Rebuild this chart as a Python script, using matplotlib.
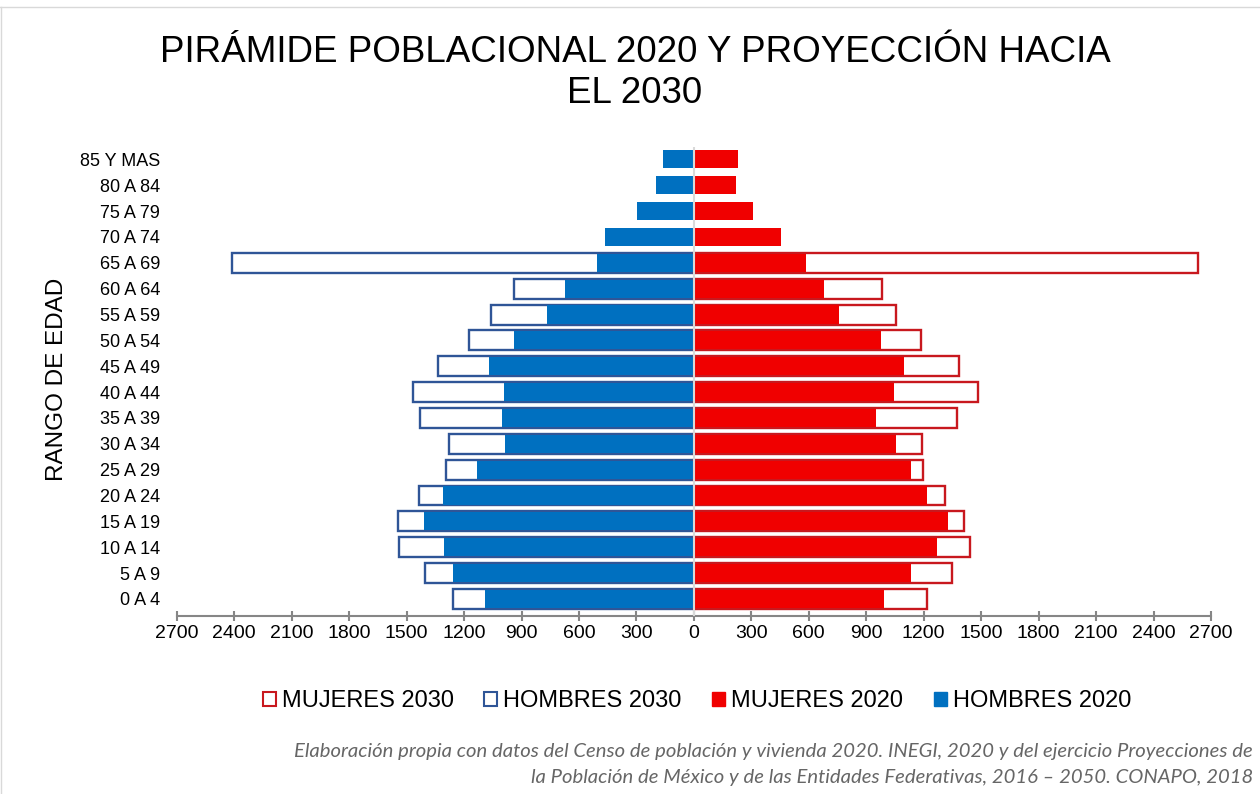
import numpy as np
import matplotlib
matplotlib.use("Agg")
import matplotlib.pyplot as plt
from matplotlib.patches import Patch
from matplotlib.lines import Line2D

plt.rcParams['font.family'] = ['Liberation Sans', 'DejaVu Sans']

categorias = ['0 A 4', '5 A 9', '10 A 14', '15 A 19', '20 A 24', '25 A 29',
              '30 A 34', '35 A 39', '40 A 44', '45 A 49', '50 A 54', '55 A 59',
              '60 A 64', '65 A 69', '70 A 74', '75 A 79', '80 A 84', '85 Y MAS']
hombres_2020 = [1092, 1260, 1304, 1410, 1311, 1135, 986, 1000, 992, 1071,
                940, 766, 674, 508, 464, 295, 198, 162]
hombres_2030 = [1260, 1403, 1540, 1544, 1433, 1297, 1279, 1429, 1465, 1336,
                1175, 1059, 939, 2410, np.nan, np.nan, np.nan, np.nan]
mujeres_2020 = [990, 1135, 1269, 1325, 1218, 1135, 1053, 953, 1043, 1098,
                979, 759, 679, 584, 457, 309, 221, 228]
mujeres_2030 = [1216, 1346, 1444, 1408, 1313, 1196, 1189, 1375, 1482, 1385,
                1188, 1057, 981, 2631, np.nan, np.nan, np.nan, np.nan]
ticks = [-2700, -2400, -2100, -1800, -1500, -1200, -900, -600, -300, 0,
         300, 600, 900, 1200, 1500, 1800, 2100, 2400, 2700]

AZUL = '#0070C0'
AZUL_BORDE = '#2F5597'
ROJO = '#F00000'
ROJO_BORDE = '#C8181E'

fig = plt.figure(figsize=(12.6, 7.94), dpi=100)
ax = fig.add_axes([176.8 / 1260, 1 - 616 / 794, (1211 - 176.8) / 1260, (616 - 146.5) / 794])

y = np.arange(len(categorias))
h2030 = np.array(hombres_2030, dtype=float)
m2030 = np.array(mujeres_2030, dtype=float)

ax.barh(y, -h2030, height=0.77, color='white', edgecolor=AZUL_BORDE, linewidth=1.7, zorder=2)
ax.barh(y, m2030, height=0.77, color='white', edgecolor=ROJO_BORDE, linewidth=1.7, zorder=2)
ax.barh(y, -np.array(hombres_2020), height=0.70, color=AZUL, zorder=3)
ax.barh(y, np.array(mujeres_2020), height=0.70, color=ROJO, zorder=3)

ax.axvline(0, color='#D9D9D9', lw=1.5, zorder=5)

ax.set_xlim(-2700, 2700)
ax.set_ylim(-0.66, 17.5)
ax.set_yticks(y)
ax.set_yticklabels(categorias, fontsize=13)
ax.set_xticks(ticks)
ax.set_xticklabels([str(abs(t)) for t in ticks], fontsize=14)

for s in ['top', 'right', 'left']:
    ax.spines[s].set_visible(False)
ax.spines['bottom'].set_color('#868686')
ax.spines['bottom'].set_linewidth(1.5)
ax.tick_params(axis='x', direction='inout', length=7, width=1.5, color='#868686', pad=3)
ax.tick_params(axis='y', length=0, pad=12)

fig.text(635 / 1260, 1 - 62 / 794, 'PIRÁMIDE POBLACIONAL 2020 Y PROYECCIÓN HACIA',
         ha='center', va='baseline', fontsize=26.5)
fig.text(635 / 1260, 1 - 103 / 794, 'EL 2030', ha='center', va='baseline', fontsize=26.5)

fig.text(57 / 1260, 1 - 379 / 794, 'RANGO DE EDAD', rotation=90, ha='center', va='center', fontsize=17.5)

handles = [Patch(facecolor='white', edgecolor=ROJO_BORDE, linewidth=1.5),
           Patch(facecolor='white', edgecolor=AZUL_BORDE, linewidth=1.5),
           Patch(facecolor=ROJO, edgecolor=ROJO),
           Patch(facecolor=AZUL, edgecolor=AZUL)]
labels = ['MUJERES 2030', 'HOMBRES 2030', 'MUJERES 2020', 'HOMBRES 2020']
fig.legend(handles, labels, ncol=4, loc='center', bbox_to_anchor=(697 / 1260, 1 - 701 / 794),
           frameon=False, fontsize=17, handlelength=0.55, handleheight=0.55,
           handletextpad=0.25, columnspacing=1.3, borderpad=0)

foot_kw = dict(ha='right', va='center', style='italic', color='#666666', fontsize=14.6,
               family=['Lato', 'DejaVu Sans'])
fig.text(1253 / 1260, 1 - 752 / 794,
         'Elaboración propia con datos del Censo de población y vivienda 2020. INEGI, 2020 y del ejercicio Proyecciones de',
         **foot_kw)
fig.text(1253 / 1260, 1 - 778 / 794,
         'la Población de México y de las Entidades Federativas, 2016 – 2050. CONAPO, 2018',
         **foot_kw)

fig.add_artist(Line2D([0, 1], [1 - 7 / 794, 1 - 7 / 794], transform=fig.transFigure,
                      color='#D9D9D9', lw=1))
fig.add_artist(Line2D([1 / 1260, 1 / 1260], [0, 1 - 7 / 794], transform=fig.transFigure,
                      color='#D9D9D9', lw=1))

fig.savefig('out.png', dpi=100)
